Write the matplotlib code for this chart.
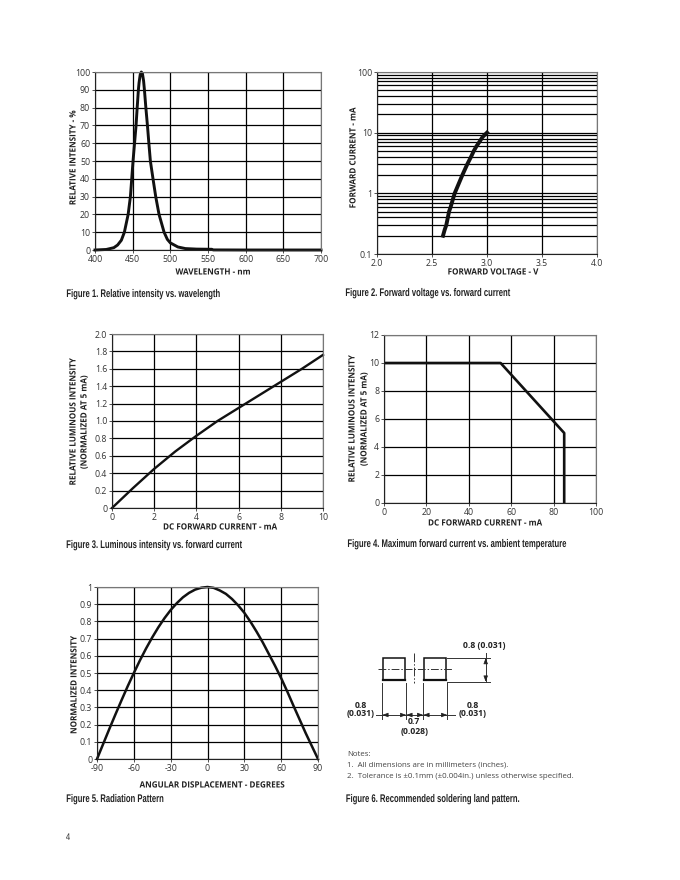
import matplotlib
matplotlib.use("Agg")
import matplotlib.pyplot as plt
from matplotlib.patheffects import AbstractPathEffect
from matplotlib.transforms import Affine2D

W, H = 680, 880
plt.rcParams['font.family'] = ['Open Sans', 'DejaVu Sans']
caption_font = ['Liberation Sans', 'DejaVu Sans']

# Figure 1
wave_nm = [400, 415, 425, 430, 435, 439, 444, 447, 450.5, 452.5, 454.5, 456, 457.6, 458.5, 460, 461.5, 463, 464.5, 465.6, 467.5, 469.6, 471.5, 473.5, 477, 480.6, 485, 491.7, 496, 500, 510, 520, 535, 555, 557, 600, 700]
rel_intensity = [0, 0.3, 1.3, 2.8, 5.5, 10, 20, 30, 50, 60, 70, 80, 90, 94, 98.5, 100, 99, 95, 90, 80, 70, 60, 50, 40, 30, 20, 10, 6, 4, 1.7, 0.8, 0.5, 0.4, 0.05, 0, 0]
# Figure 2
fwd_volt = [2.6, 2.615, 2.63, 2.655, 2.67, 2.69, 2.706, 2.74, 2.776, 2.82, 2.855, 2.88, 2.905, 2.93, 2.96, 3.0]
fwd_curr = [0.2, 0.25, 0.3, 0.5, 0.6, 0.8, 1, 1.4, 2, 3, 4, 5, 6, 7, 8.5, 10]
# Figure 3
dc_curr = [0, 1, 2, 3, 4, 5, 6, 7, 8, 9, 10]
lum_rel = [0, 0.23, 0.45, 0.65, 0.83, 1.0, 1.15, 1.3, 1.45, 1.6, 1.76]
# Figure 4
derate_x = [0, 55, 85, 85]
derate_y = [10, 10, 5, 0]
# Figure 5
angle_deg = [-90, -85, -80, -75, -70, -65, -60, -55, -50, -45, -40, -35, -30, -25, -20, -15, -10, -5, 0,
             5, 10, 15, 20, 25, 30, 35, 40, 45, 50, 55, 60, 65, 70, 75, 80, 85, 90]
norm_int = [0, 0.087, 0.174, 0.259, 0.342, 0.423, 0.5, 0.574, 0.643, 0.707, 0.766, 0.819, 0.866, 0.906, 0.94, 0.966, 0.985, 0.996, 1,
            0.995, 0.98, 0.96, 0.93, 0.893, 0.85, 0.798, 0.74, 0.678, 0.61, 0.542, 0.47, 0.392, 0.31, 0.23, 0.15, 0.075, 0]

log_grid = [m * d for d in [0.1, 1, 10] for m in range(2, 11)]
captions = ["Figure 1. Relative intensity vs. wavelength", "Figure 2. Forward voltage vs. forward current",
            "Figure 3. Luminous intensity vs. forward current", "Figure 4. Maximum forward current vs. ambient temperature",
            "Figure 5. Radiation Pattern", "Figure 6. Recommended soldering land pattern."]
caption_pos = [(144, 294), (428.5, 293), (155, 545), (458, 544), (115.5, 799), (433.5, 799)]


class Squeeze(AbstractPathEffect):
    # narrows a text around its middle, there is no condensed font here
    def __init__(self, k):
        super().__init__()
        self.k = k

    def draw_path(self, renderer, gc, tpath, affine, rgbFace=None):
        box = tpath.get_extents()
        mid = (box.x0 + box.x1) / 2
        squeeze = Affine2D().translate(-mid, 0).scale(self.k, 1).translate(mid, 0)
        renderer.draw_path(gc, tpath, squeeze + affine, rgbFace)


fig = plt.figure(figsize=(W / 100, H / 100), dpi=100, facecolor='white')

# full page axes in pixels, for text and the land pattern
page = fig.add_axes([0, 0, 1, 1], zorder=5)
page.set_xlim(0, W)
page.set_ylim(H, 0)
page.axis('off')


def make_ax(left, right, top, bottom):
    ax = fig.add_axes([left / W, 1 - bottom / H, (right - left) / W, (bottom - top) / H])
    for side in ['top', 'right']:
        ax.spines[side].set_color('#777777')
        ax.spines[side].set_linewidth(0.8)
    for side in ['left', 'bottom']:
        ax.spines[side].set_color('#222222')
        ax.spines[side].set_linewidth(0.8)
    ax.grid(True, color='black', linewidth=0.9)
    ax.set_axisbelow(True)
    ax.tick_params(length=2, width=0.6, pad=1.5, labelsize=6.3, labelcolor='#333333', color='#333333')
    return ax


def axis_text(x, y, s, rot=0):
    page.text(x, y, s, fontsize=6.2, fontweight='bold', color='#222222', rotation=rot, ha='center', va='center',
              path_effects=[Squeeze(0.94)])


ax1 = make_ax(95, 321, 72, 250)
ax1.plot(wave_nm, rel_intensity, color='#111111', lw=2.1, clip_on=False, solid_joinstyle='round')
ax1.set_xlim(400, 700)
ax1.set_ylim(0, 100)
ax1.set_xticks(range(400, 701, 50))
ax1.set_yticks(range(0, 101, 10))
axis_text(213, 272, "WAVELENGTH - nm")
axis_text(73, 158, "RELATIVE INTENSITY - %", 90)

ax2 = make_ax(377, 597, 72, 254)
ax2.set_yscale('log')
ax2.plot(fwd_volt, fwd_curr, color='#111111', lw=2.8)
ax2.set_xlim(2, 4)
ax2.set_ylim(0.1, 100)
ax2.set_xticks([2, 2.5, 3, 3.5, 4])
ax2.set_xticklabels(["2.0", "2.5", "3.0", "3.5", "4.0"])
ax2.set_yticks([0.1, 1, 10, 100])
ax2.set_yticklabels(["0.1", "1", "10", "100"])
ax2.set_yticks(log_grid, minor=True)
ax2.tick_params(axis='y', which='minor', length=0, labelleft=False)
ax2.grid(True, which='minor', axis='y', color='black', linewidth=0.9)
axis_text(493, 272, "FORWARD VOLTAGE - V")
axis_text(353, 158, "FORWARD CURRENT - mA", 90)

ax3 = make_ax(112, 323, 334, 508)
ax3.plot(dc_curr, lum_rel, color='#111111', lw=1.7, clip_on=False)
ax3.set_xlim(0, 10)
ax3.set_ylim(0, 2)
ax3.set_xticks(range(0, 11, 2))
ax3.set_yticks([i * 0.2 for i in range(11)])
ax3.set_yticklabels(["0", "0.2", "0.4", "0.6", "0.8", "1.0", "1.2", "1.4", "1.6", "1.8", "2.0"])
axis_text(220, 527, "DC FORWARD CURRENT - mA")
axis_text(73, 422, "RELATIVE LUMINOUS INTENSITY", 90)
axis_text(84, 422, "(NORMALIZED AT 5 mA)", 90)

ax4 = make_ax(384, 596, 335, 503)
ax4.plot(derate_x, derate_y, color='#111111', lw=1.9)
ax4.set_xlim(0, 100)
ax4.set_ylim(0, 12)
ax4.set_xticks(range(0, 101, 20))
ax4.set_yticks(range(0, 13, 2))
axis_text(485, 523, "DC FORWARD CURRENT - mA")
axis_text(352, 419, "RELATIVE LUMINOUS INTENSITY", 90)
axis_text(364, 419, "(NORMALIZED AT 5 mA)", 90)

ax5 = make_ax(97, 318, 587, 759)
ax5.plot(angle_deg, norm_int, color='#111111', lw=1.8, clip_on=False)
ax5.set_xlim(-90, 90)
ax5.set_ylim(0, 1)
ax5.set_xticks(range(-90, 91, 30))
ax5.set_xticklabels(["-90", "-60", "-30", "0", "30", "60", "90"])
ax5.set_yticks([i / 10 for i in range(11)])
ax5.set_yticklabels(["0", "0.1", "0.2", "0.3", "0.4", "0.5", "0.6", "0.7", "0.8", "0.9", "1"])
axis_text(212, 785, "ANGULAR DISPLACEMENT - DEGREES")
axis_text(74, 685, "NORMALIZED INTENSITY", 90)

for (cx, cy), cap in zip(caption_pos, captions):
    page.text(cx, cy, cap, fontsize=8, fontweight='bold', family=caption_font, color='#222222',
              ha='center', va='center', path_effects=[Squeeze(0.69)])
page.text(68, 837, "4", fontsize=7, family=caption_font, color='#333333', ha='center', va='center',
          path_effects=[Squeeze(0.8)])

# Figure 6 land pattern
for px in [383, 423.5]:
    page.add_patch(plt.Rectangle((px, 658.5), 22, 21.5, fill=False, ec='#111111', lw=1.1))
    page.plot([px, px + 22], [680, 680], color='#111111', lw=1.6)
page.plot([378, 452], [669.3, 669.3], color='#333333', lw=0.7, dashes=(8, 2, 1.5, 2))
page.plot([414, 414], [653, 683], color='#333333', lw=0.7, dashes=(9, 2, 1.5, 2))
for y0 in [658, 681.7]:
    page.plot([447, 490], [y0, y0], color='#333333', lw=0.7)
for px in [382.3, 406.3, 423.3, 447.3]:
    page.plot([px, px], [683, 719], color='#333333', lw=0.7)
page.plot([375.7, 455], [715, 715], color='#333333', lw=0.7)
page.plot([485.7, 485.7], [653, 681.7], color='#333333', lw=0.7)
arrow = dict(arrowstyle='-|>,head_width=0.13,head_length=0.35', color='#222222', lw=0.5, shrinkA=0, shrinkB=0)
for a, b in [(386, 382.3), (403, 406.3), (410, 406.3), (420, 423.3), (427, 423.3), (444, 447.3)]:
    page.annotate("", xy=(b, 715), xytext=(a, 715), arrowprops=arrow)
for a, b in [(663, 658), (677, 681.7)]:
    page.annotate("", xy=(485.7, b), xytext=(485.7, a), arrowprops=arrow)
for x, y, s in [(484.5, 646, "0.8 (0.031)"), (360.7, 705, "0.8"), (360.7, 714, "(0.031)"), (473, 705, "0.8"), (473, 714, "(0.031)"), (414, 722, "0.7"), (414.7, 732, "(0.028)")]:
    page.text(x, y, s, fontsize=6.2, fontweight='bold', color='#222222', ha='center', va='center')
for y, s in [(755, "Notes:"), (765, "1.  All dimensions are in millimeters (inches)."), (776, "2.  Tolerance is ±0.1mm (±0.004in.) unless otherwise specified.")]:
    page.text(347, y, s, fontsize=5.7, color='#444444', va='center')

fig.savefig("out.png", dpi=100)
